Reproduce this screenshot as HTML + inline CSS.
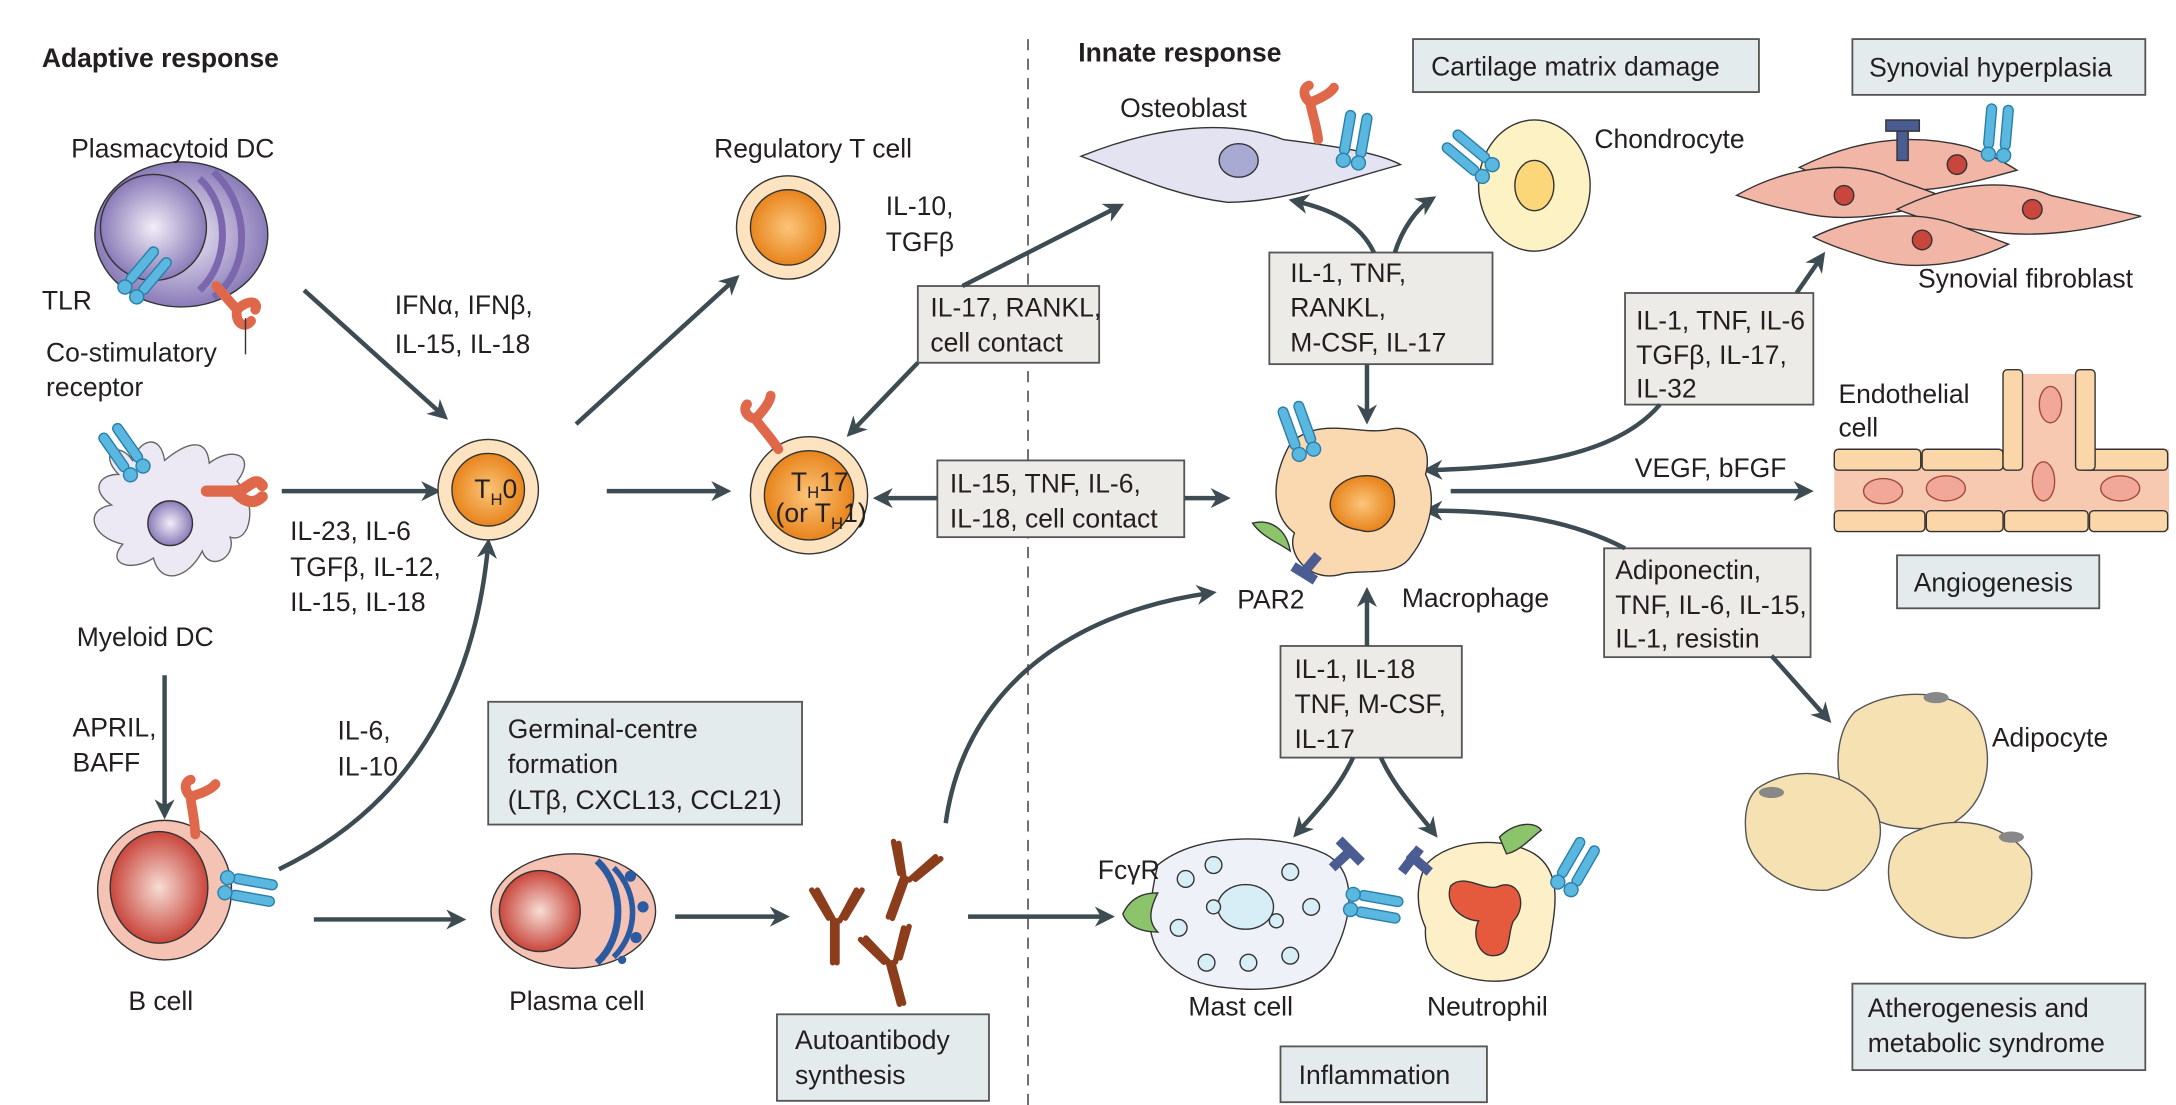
<!DOCTYPE html>
<html><head><meta charset="utf-8"><style>
html,body{margin:0;padding:0;background:#fff}
svg{display:block}
text{font-family:"Liberation Sans",sans-serif;fill:#231f20;font-size:19px}
.b{font-weight:bold;font-size:19px}
.box{fill:#e4ebec;stroke:#555;stroke-width:1.3}
.boxg{fill:#ecebe7;stroke:#555;stroke-width:1.3}
.ar{stroke:#3d4b52;stroke-width:3.2;fill:none;marker-end:url(#ah)}
.ln{stroke:#3d4b52;stroke-width:3.2;fill:none}
</style></head><body>
<svg width="2176" height="1105" viewBox="0 0 1560 792" preserveAspectRatio="none" xmlns="http://www.w3.org/2000/svg">
<defs>
<marker id="ah" viewBox="0 0 10 10" refX="7" refY="5" markerWidth="4.5" markerHeight="4.5" orient="auto-start-reverse"><path d="M0,0 L10,5 L0,10 L3,5z" fill="#3d4b52"/></marker>
<radialGradient id="org"><stop offset="0" stop-color="#fbc57a"/><stop offset="1" stop-color="#e8841c"/></radialGradient>
<radialGradient id="red"><stop offset="0" stop-color="#f6ddd5"/><stop offset="1" stop-color="#c9463c"/></radialGradient>
<radialGradient id="pur"><stop offset="0" stop-color="#f2eef8"/><stop offset="1" stop-color="#8a7bb8"/></radialGradient>
<g id="rec"><rect x="-10" y="-30" width="7" height="32" rx="3.5" fill="#5ab7e0" stroke="#2a7fa8"/><rect x="2" y="-30" width="7" height="32" rx="3.5" fill="#5ab7e0" stroke="#2a7fa8"/><circle cx="-6" cy="6" r="5" fill="#5ab7e0" stroke="#2a7fa8"/><circle cx="5" cy="6" r="5" fill="#5ab7e0" stroke="#2a7fa8"/></g>
<g id="ab" stroke="#8b3d1c" stroke-width="4" fill="none" stroke-linecap="round"><path d="M0,0 V30 M-3,0 V30 M-2,0 L-14,-22 M2,0 L14,-22 M-6,-2 L-18,-22 M6,-2 L18,-22"/></g>
<g id="cost"><path d="M0,0 C-2,-10 -6,-18 -8,-26 M-8,-26 C-14,-30 -14,-36 -10,-38 M-8,-26 C0,-30 6,-34 8,-38" stroke="#e0684a" stroke-width="7" fill="none" stroke-linecap="round"/></g>
</defs>

<line x1="737" y1="28" x2="737" y2="792" stroke="#555" stroke-width="1.2" stroke-dasharray="8,6"/>
<text x="30" y="48" class="b">Adaptive response</text>
<text x="773" y="44" class="b">Innate response</text>

<!-- boxes -->
<rect x="1013" y="28" width="248" height="38" class="box"/><text x="1026" y="54">Cartilage matrix damage</text>
<rect x="1328" y="28" width="210" height="40" class="box"/><text x="1340" y="55">Synovial hyperplasia</text>
<rect x="658" y="205" width="130" height="55" class="boxg"/><text x="667" y="227">IL-17, RANKL,</text><text x="667" y="252">cell contact</text>
<rect x="910" y="181" width="160" height="80" class="boxg"/><text x="925" y="202">IL-1, TNF,</text><text x="925" y="227">RANKL,</text><text x="925" y="252">M-CSF, IL-17</text>
<rect x="1165" y="210" width="135" height="80" class="boxg"/><text x="1173" y="236">IL-1, TNF, IL-6</text><text x="1173" y="261">TGFβ, IL-17,</text><text x="1173" y="285">IL-32</text>
<rect x="672" y="330" width="177" height="55" class="boxg"/><text x="681" y="353">IL-15, TNF, IL-6,</text><text x="681" y="378">IL-18, cell contact</text>
<rect x="1150" y="393" width="148" height="78" class="boxg"/><text x="1158" y="415">Adiponectin,</text><text x="1158" y="440">TNF, IL-6, IL-15,</text><text x="1158" y="464">IL-1, resistin</text>
<rect x="1360" y="398" width="145" height="38" class="box"/><text x="1372" y="424">Angiogenesis</text>
<rect x="918" y="463" width="130" height="80" class="boxg"/><text x="928" y="486">IL-1, IL-18</text><text x="928" y="511">TNF, M-CSF,</text><text x="928" y="536">IL-17</text>
<rect x="350" y="503" width="225" height="88" class="box"/><text x="364" y="529">Germinal-centre</text><text x="364" y="554">formation</text><text x="364" y="580">(LTβ, CXCL13, CCL21)</text>
<rect x="557" y="727" width="152" height="62" class="box"/><text x="570" y="752">Autoantibody</text><text x="570" y="777">synthesis</text>
<rect x="918" y="750" width="148" height="40" class="box"/><text x="931" y="777">Inflammation</text>
<rect x="1328" y="705" width="210" height="62" class="box"/><text x="1339" y="729">Atherogenesis and</text><text x="1339" y="754">metabolic syndrome</text>

<!-- arrows -->
<path class="ar" d="M218,208 L318,298"/>
<text x="283" y="225">IFNα, IFNβ,</text><text x="283" y="253">IL-15, IL-18</text>
<path class="ar" d="M202,352 L312,352"/>
<text x="208" y="387">IL-23, IL-6</text><text x="208" y="413">TGFβ, IL-12,</text><text x="208" y="438">IL-15, IL-18</text>
<path class="ar" d="M118,484 L118,583"/>
<text x="52" y="528">APRIL,</text><text x="52" y="553">BAFF</text>
<path class="ar" d="M200,623 C290,580 340,500 350,390"/>
<text x="242" y="530">IL-6,</text><text x="242" y="556">IL-10</text>
<path class="ar" d="M413,304 L527,200"/>
<path class="ar" d="M435,352 L520,352"/>
<path class="ar" d="M225,659 L330,659"/>
<path class="ar" d="M484,657 L562,657"/>
<path class="ar" d="M694,657 L795,657"/>
<path class="ar" d="M678,590 C690,500 760,440 868,425"/>
<path class="ar" d="M690,205 L802,148"/>
<path class="ar" d="M658,260 L610,310" />
<path class="ar" d="M672,357 L630,357"/>
<path class="ar" d="M849,357 L878,357"/>
<path class="ar" d="M980,261 L980,300"/>
<path class="ar" d="M985,181 C975,160 955,150 928,144"/>
<path class="ar" d="M1000,181 C1005,165 1015,150 1026,143"/>
<path class="ar" d="M1288,210 L1306,184"/>
<path class="ar" d="M1190,290 C1160,325 1100,335 1024,337" />
<path class="ar" d="M1040,352 L1296,352"/>
<text x="1172" y="342">VEGF, bFGF</text>
<path class="ar" d="M1165,393 C1130,375 1090,366 1024,366"/>
<path class="ar" d="M1270,470 L1310,515"/>
<path class="ar" d="M980,463 L980,425"/>
<path class="ar" d="M970,543 C960,565 945,580 930,597"/>
<path class="ar" d="M990,543 C1000,565 1015,580 1028,597"/>

<!-- plasmacytoid DC -->
<ellipse cx="130" cy="168" rx="62" ry="52" fill="url(#pur)" stroke="#333"/>
<circle cx="110" cy="163" r="38" fill="url(#pur)" stroke="#333"/>
<path d="M143,128 C165,148 165,188 143,208" stroke="#7a67ae" stroke-width="5" fill="none"/>
<path d="M153,123 C180,148 180,193 153,213" stroke="#7a67ae" stroke-width="5" fill="none"/>
<use href="#rec" transform="translate(98,205) rotate(40)"/>
<path d="M155,205 L170,222 M170,222 C168,232 176,236 180,230 M170,222 C178,214 186,216 183,222" stroke="#e0684a" stroke-width="7" fill="none" stroke-linecap="round"/>
<line x1="176" y1="228" x2="176" y2="254" stroke="#333"/>
<text x="51" y="113">Plasmacytoid DC</text>
<text x="30" y="222">TLR</text>
<text x="33" y="259">Co-stimulatory</text><text x="33" y="284">receptor</text>

<!-- myeloid DC -->
<path d="M85,340 C70,325 85,315 95,330 C100,315 115,310 118,330 C130,320 148,310 150,332 C165,320 185,325 170,345 C185,360 180,390 165,385 C170,400 150,410 145,395 C135,415 115,420 110,400 C95,410 75,405 88,390 C65,385 60,365 80,362 C65,352 70,340 85,340z" fill="#ece8f4" stroke="#666"/>
<ellipse cx="122" cy="375" rx="16" ry="16" fill="url(#pur)" stroke="#333"/>
<use href="#rec" transform="translate(95,332) rotate(-35)"/>
<path d="M148,352 L168,352 M168,352 C178,352 182,340 188,348 M168,352 C175,360 182,362 188,356" stroke="#e0684a" stroke-width="8" fill="none" stroke-linecap="round"/>
<text x="55" y="463">Myeloid DC</text>

<!-- TH0 -->
<circle cx="350" cy="351" r="36" fill="#fde3bf" stroke="#333"/><circle cx="350" cy="351" r="26" fill="url(#org)" stroke="#333"/>
<text x="340" y="357">T<tspan font-size="12" dy="5">H</tspan><tspan dy="-5">0</tspan></text>
<!-- Treg -->
<circle cx="565" cy="163" r="37" fill="#fde3bf" stroke="#333"/><circle cx="565" cy="163" r="27" fill="url(#org)" stroke="#333"/>
<text x="512" y="113">Regulatory T cell</text>
<text x="635" y="154">IL-10,</text><text x="635" y="180">TGFβ</text>
<!-- TH17 -->
<circle cx="580" cy="355" r="42" fill="#fde3bf" stroke="#333"/><circle cx="580" cy="355" r="32" fill="url(#org)" stroke="#333"/>
<use href="#cost" transform="translate(558,322) rotate(-20)"/>
<text x="567" y="352">T<tspan font-size="12" dy="5">H</tspan><tspan dy="-5">17</tspan></text>
<text x="556" y="374">(or T<tspan font-size="12" dy="5">H</tspan><tspan dy="-5">1)</tspan></text>

<!-- B cell -->
<ellipse cx="118" cy="638" rx="48" ry="50" fill="#f4c3b4" stroke="#333"/>
<ellipse cx="114" cy="636" rx="35" ry="40" fill="url(#red)" stroke="#333"/>
<use href="#cost" transform="translate(140,598) rotate(10)"/>
<use href="#rec" transform="translate(168,636) rotate(100)"/>
<text x="92" y="724">B cell</text>

<!-- plasma cell -->
<ellipse cx="411" cy="653" rx="59" ry="41" fill="#f4c3b4" stroke="#333"/>
<ellipse cx="387" cy="653" rx="29" ry="29" fill="url(#red)" stroke="#333"/>
<path d="M428,617 C448,635 448,672 428,690" stroke="#2b5aa0" stroke-width="5" fill="none"/>
<path d="M440,622 C458,640 458,668 440,686" stroke="#2b5aa0" stroke-width="4" fill="none"/>
<circle cx="452" cy="628" r="4" fill="#2b5aa0"/><circle cx="461" cy="650" r="4" fill="#2b5aa0"/><circle cx="456" cy="672" r="4" fill="#2b5aa0"/><circle cx="446" cy="688" r="3" fill="#2b5aa0"/>
<text x="365" y="724">Plasma cell</text>

<!-- antibodies -->
<use href="#ab" transform="translate(600,660)"/>
<use href="#ab" transform="translate(650,630) rotate(20)"/>
<use href="#ab" transform="translate(640,690) rotate(-15)"/>

<!-- osteoblast -->
<path d="M775,112 C830,90 880,85 920,100 C960,105 990,110 1004,118 C960,130 920,145 880,145 C840,140 810,125 775,112z" fill="#e3e3f2" stroke="#333"/>
<ellipse cx="888" cy="115" rx="14" ry="12" fill="#a8aad4" stroke="#333"/>
<use href="#cost" transform="translate(945,100) rotate(5)"/>
<use href="#rec" transform="translate(970,110) rotate(10)"/>
<text x="803" y="84">Osteoblast</text>
<!-- chondrocyte -->
<ellipse cx="1100" cy="133" rx="40" ry="47" fill="#fdf2c4" stroke="#333"/>
<ellipse cx="1100" cy="133" rx="14" ry="18" fill="#fbd779" stroke="#333"/>
<use href="#rec" transform="translate(1062,118) rotate(-50)"/>
<text x="1143" y="106">Chondrocyte</text>

<!-- synovial fibroblasts -->
<g fill="#f2b6a7" stroke="#333">
<path d="M1290,120 C1330,100 1370,95 1410,105 C1425,110 1435,115 1446,122 C1410,132 1380,140 1340,135 C1320,132 1305,127 1290,120z"/>
<path d="M1245,140 C1280,120 1320,115 1350,125 C1360,130 1380,135 1395,142 C1360,155 1320,160 1290,152 C1270,148 1260,145 1245,140z"/>
<path d="M1360,150 C1400,130 1440,128 1470,140 L1535,155 C1500,165 1460,172 1420,165 C1395,162 1378,157 1360,150z"/>
<path d="M1300,170 C1330,155 1370,150 1400,160 L1440,175 C1410,190 1370,195 1340,185 C1325,180 1312,176 1300,170z"/>
</g>
<g fill="#c9463c" stroke="#333"><circle cx="1403" cy="118" r="7"/><circle cx="1322" cy="140" r="7"/><circle cx="1457" cy="150" r="7"/><circle cx="1378" cy="172" r="7"/></g>
<rect x="1360" y="90" width="8" height="25" fill="#4a5c92" stroke="#333"/><rect x="1352" y="86" width="24" height="8" fill="#4a5c92" stroke="#333"/>
<use href="#rec" transform="translate(1432,105) rotate(5)"/>
<text x="1375" y="206">Synovial fibroblast</text>

<!-- endothelial -->
<rect x="1315" y="322" width="240" height="58" fill="#f7c9b0"/>
<rect x="1440" y="268" width="50" height="60" fill="#f7c9b0"/>
<g fill="#fbd6a8" stroke="#333">
<rect x="1315" y="322" width="62" height="15" rx="3"/><rect x="1378" y="322" width="58" height="15" rx="3"/><rect x="1492" y="322" width="62" height="15" rx="3"/>
<rect x="1315" y="366" width="65" height="15" rx="3"/><rect x="1381" y="366" width="55" height="15" rx="3"/><rect x="1437" y="366" width="60" height="15" rx="3"/><rect x="1498" y="366" width="56" height="15" rx="3"/>
<rect x="1436" y="265" width="14" height="72" rx="3"/><rect x="1488" y="265" width="14" height="72" rx="3"/>
</g>
<g fill="#f2a898" stroke="#a04a3c"><ellipse cx="1350" cy="352" rx="14" ry="9"/><ellipse cx="1395" cy="350" rx="14" ry="9"/><ellipse cx="1470" cy="290" rx="8" ry="13"/><ellipse cx="1465" cy="345" rx="8" ry="14"/><ellipse cx="1520" cy="350" rx="14" ry="9"/></g>
<text x="1318" y="289">Endothelial</text><text x="1318" y="313">cell</text>

<!-- macrophage -->
<path d="M925,318 C945,298 975,312 995,308 C1012,303 1028,318 1022,340 C1032,360 1022,385 1012,398 C1002,415 975,407 960,412 C938,417 922,397 928,382 C912,370 910,345 925,318z" fill="#fbd9b0" stroke="#333"/>
<path d="M955,355 C960,340 990,335 998,350 C1005,370 990,385 975,380 C960,378 950,368 955,355z" fill="url(#org)" stroke="#333"/>
<use href="#rec" transform="translate(935,318) rotate(-20)"/>
<path d="M898,375 C910,372 922,378 925,395 C915,388 905,385 898,375z" fill="#8bc46a" stroke="#333"/>
<path d="M935,410 L945,398 M927,406 L943,416" stroke="#4a5c92" stroke-width="7"/>
<text x="887" y="436">PAR2</text><text x="1005" y="435">Macrophage</text>

<!-- mast cell -->
<path d="M830,620 C860,595 920,598 950,612 C975,625 968,660 958,680 C950,705 915,712 880,708 C840,705 820,680 825,650 C826,638 828,628 830,620z" fill="#eef1f8" stroke="#333"/>
<ellipse cx="893" cy="650" rx="20" ry="16" fill="#d8eef6" stroke="#333"/>
<g fill="#d8eef6" stroke="#333"><circle cx="850" cy="630" r="6"/><circle cx="870" cy="620" r="6"/><circle cx="925" cy="625" r="6"/><circle cx="940" cy="650" r="6"/><circle cx="845" cy="665" r="6"/><circle cx="865" cy="690" r="6"/><circle cx="895" cy="690" r="6"/><circle cx="925" cy="685" r="6"/><circle cx="870" cy="650" r="5"/><circle cx="915" cy="660" r="5"/></g>
<path d="M805,655 C812,640 825,640 830,640 C825,650 822,660 830,668 C818,668 808,664 805,655z" fill="#8bc46a" stroke="#333"/>
<use href="#rec" transform="translate(975,648) rotate(100)"/>
<path d="M955,622 L968,610 M960,602 L976,618" stroke="#4a5c92" stroke-width="7"/>
<text x="787" y="630">FcγR</text><text x="852" y="728">Mast cell</text>
<!-- neutrophil -->
<path d="M1022,620 C1040,600 1080,600 1100,612 C1120,625 1115,650 1112,670 C1110,695 1090,705 1065,703 C1040,700 1020,690 1022,665 C1015,650 1015,635 1022,620z" fill="#fdf0c8" stroke="#333"/>
<path d="M1040,635 C1050,625 1065,640 1075,635 C1090,630 1095,650 1085,660 C1080,670 1085,685 1070,685 C1060,685 1055,670 1060,660 C1050,660 1035,650 1040,635z" fill="#e55a3c" stroke="#333"/>
<path d="M1075,600 C1085,590 1100,588 1105,595 C1098,600 1090,610 1080,612z" fill="#8bc46a" stroke="#333"/>
<use href="#rec" transform="translate(1125,630) rotate(30)"/>
<path d="M1010,612 L1025,625 M1005,625 L1018,608" stroke="#4a5c92" stroke-width="7"/>
<text x="1023" y="728">Neutrophil</text>

<!-- adipocytes -->
<g fill="#f5e1b2" stroke="#555">
<path d="M1330,510 C1360,490 1410,495 1420,520 C1430,545 1425,575 1400,590 C1370,600 1330,590 1320,565 C1315,545 1318,522 1330,510z"/>
<path d="M1260,565 C1290,545 1330,555 1345,580 C1355,605 1340,630 1310,638 C1280,640 1255,620 1252,600 C1250,585 1252,572 1260,565z"/>
<path d="M1365,600 C1400,580 1440,590 1455,615 C1462,640 1445,665 1415,672 C1385,675 1360,655 1355,635 C1352,620 1355,608 1365,600z"/>
</g>
<g fill="#888"><ellipse cx="1388" cy="500" rx="9" ry="4"/><ellipse cx="1270" cy="568" rx="9" ry="4"/><ellipse cx="1442" cy="600" rx="9" ry="4"/></g>
<text x="1428" y="535">Adipocyte</text>
</svg>
</body></html>
